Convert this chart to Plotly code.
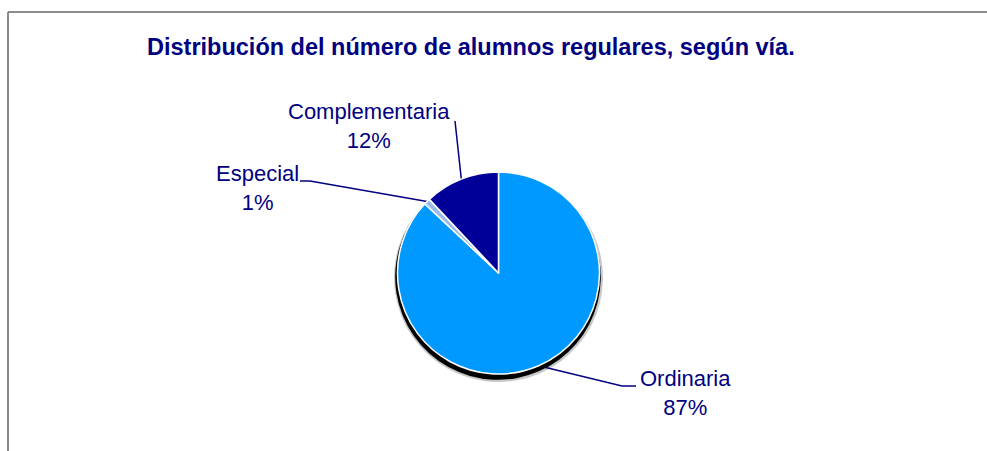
import math
import plotly.graph_objects as go

# ---- data ----
categories = ["Ordinaria", "Especial", "Complementaria"]
values = [87, 1, 12]
colors = ["#0099FF", "#99BBE8", "#000099"]
title_text = "Distribución del número de alumnos regulares, según vía."

W, H = 987, 451
CX, CY, R = 498.5, 273.0, 101.0   # pie centre / radius in px (layout)

def px_x(x):
    return x / W

def px_y(y):
    return 1 - y / H

def dom(cx, cy, r):
    return dict(x=[px_x(cx - r), px_x(cx + r)], y=[px_y(cy + r), px_y(cy - r)])

fig = go.Figure()

# shadow layers
fig.add_trace(go.Pie(values=values, labels=categories, sort=False, direction="clockwise",
                     rotation=0, textinfo="none", hoverinfo="skip", showlegend=False,
                     marker=dict(colors=["rgba(0,0,0,0.22)"] * 3, line=dict(width=0)),
                     domain=dom(CX, CY + 4.5, R + 3.5)))
fig.add_trace(go.Pie(values=values, labels=categories, sort=False, direction="clockwise",
                     rotation=0, textinfo="none", hoverinfo="skip", showlegend=False,
                     marker=dict(colors=["#000000"] * 3, line=dict(width=0)),
                     domain=dom(CX - 0.5, CY + 4, R + 1.8)))
# main pie
fig.add_trace(go.Pie(values=values, labels=categories, sort=False, direction="clockwise",
                     rotation=0, textinfo="none", showlegend=False,
                     marker=dict(colors=colors, line=dict(color="white", width=1.5)),
                     domain=dom(CX, CY, R)))

# label layout (px): text centre and leader-line elbow points
label_layout = {
    "Complementaria": dict(tx=369, ty=125.5, pts=[(455, 121)]),
    "Especial": dict(tx=257, ty=187.5, pts=[(310, 181), (300, 181)]),
    "Ordinaria": dict(tx=685, ty=393, pts=[(622, 386), (636, 386)]),
}

font_fam = "Liberation Sans, Arial, sans-serif"
navy = "#000080"
total = sum(values)
cum = 0.0
shapes = []
annotations = []
for cat, v in zip(categories, values):
    mid = (cum + v / 2) / total * 360.0
    cum += v
    ex = CX + R * math.sin(math.radians(mid))
    ey = CY - R * math.cos(math.radians(mid))
    lay = label_layout[cat]
    pts = [(ex, ey)] + lay["pts"]
    path = "M " + " L ".join(f"{px_x(x)},{px_y(y)}" for x, y in pts)
    shapes.append(dict(type="path", path=path, xref="paper", yref="paper",
                       line=dict(color=navy, width=1.5), layer="below"))
    pct = round(v / total * 100)
    annotations.append(dict(text=f"{cat}<br>{pct}%", x=px_x(lay["tx"]), y=px_y(lay["ty"]),
                            xref="paper", yref="paper", showarrow=False,
                            xanchor="center", yanchor="middle", align="center",
                            font=dict(family=font_fam, size=22, color=navy)))

annotations.append(dict(text=f"<b>{title_text}</b>", x=px_x(471), y=px_y(47),
                        xref="paper", yref="paper", showarrow=False,
                        xanchor="center", yanchor="middle",
                        font=dict(family=font_fam, size=23.5, color=navy)))

# frame lines (top and left)
shapes.append(dict(type="line", xref="paper", yref="paper", x0=px_x(8), x1=1.0,
                   y0=px_y(12), y1=px_y(12), line=dict(color="#8c8c8c", width=2)))
shapes.append(dict(type="line", xref="paper", yref="paper", x0=px_x(8), x1=px_x(8),
                   y0=px_y(12), y1=0.0, line=dict(color="#8c8c8c", width=2)))

fig.update_layout(width=W, height=H, margin=dict(l=0, r=0, t=0, b=0),
                  paper_bgcolor="white", plot_bgcolor="white",
                  shapes=shapes, annotations=annotations)

fig.write_html("out.html", config={"displayModeBar": False},
               post_script="document.body.style.margin='0';")
